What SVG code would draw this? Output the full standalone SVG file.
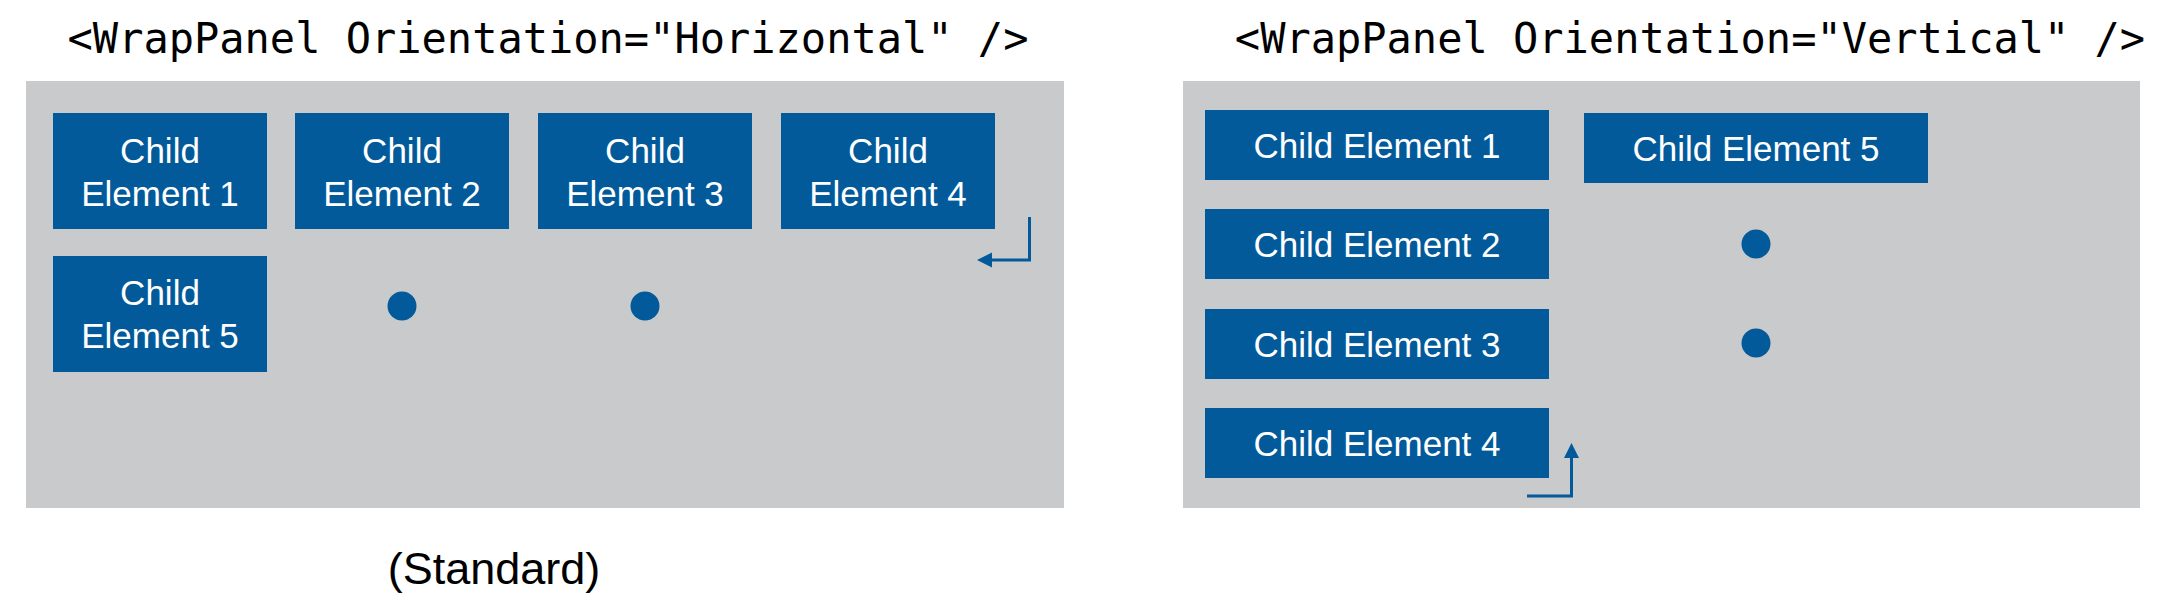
<svg xmlns="http://www.w3.org/2000/svg" width="2180" height="613" viewBox="0 0 2180 613">
<style>
.panel{fill:#C9CACC}
.box{fill:#025A9A}
.bt{font-family:"Liberation Sans",Arial,sans-serif;font-size:35px;fill:#FFFFFF;text-anchor:middle}
.title{font-family:"DejaVu Sans Mono","Liberation Mono",monospace;font-size:42px;fill:#000000;text-anchor:middle}
.cap{font-family:"Liberation Sans",Arial,sans-serif;font-size:45px;fill:#000000;text-anchor:middle}
.dot{fill:#025A9A}
.conn{fill:none;stroke:#025A9A;stroke-width:3;stroke-linejoin:miter}
</style>
<defs>
<marker id="ah" markerUnits="userSpaceOnUse" markerWidth="16" markerHeight="16" refX="0" refY="7.5" orient="auto">
<path d="M0,0 L15,7.5 L0,15 z" fill="#025A9A"/>
</marker>
</defs>
<rect width="2180" height="613" fill="#FFFFFF"/>

<g id="title-horizontal"><text class="title" x="548" y="53">&lt;WrapPanel Orientation="Horizontal" /&gt;</text></g>
<g id="title-vertical"><text class="title" x="1690" y="53">&lt;WrapPanel Orientation="Vertical" /&gt;</text></g>

<g id="panel-horizontal"><rect class="panel" x="26" y="81" width="1038" height="427"/></g>
<g id="panel-vertical"><rect class="panel" x="1183" y="81" width="957" height="427"/></g>

<g id="h-child1"><rect class="box" x="53" y="113" width="214" height="116"/><text class="bt" x="160" y="163">Child</text><text class="bt" x="160" y="206">Element 1</text></g>
<g id="h-child2"><rect class="box" x="295" y="113" width="214" height="116"/><text class="bt" x="402" y="163">Child</text><text class="bt" x="402" y="206">Element 2</text></g>
<g id="h-child3"><rect class="box" x="538" y="113" width="214" height="116"/><text class="bt" x="645" y="163">Child</text><text class="bt" x="645" y="206">Element 3</text></g>
<g id="h-child4"><rect class="box" x="781" y="113" width="214" height="116"/><text class="bt" x="888" y="163">Child</text><text class="bt" x="888" y="206">Element 4</text></g>
<g id="h-child5"><rect class="box" x="53" y="256" width="214" height="116"/><text class="bt" x="160" y="305">Child</text><text class="bt" x="160" y="348">Element 5</text></g>
<g id="h-dot1"><circle class="dot" cx="402" cy="306" r="14.5"/></g>
<g id="h-dot2"><circle class="dot" cx="645" cy="306" r="14.5"/></g>

<g id="v-child1"><rect class="box" x="1205" y="110" width="344" height="70"/><text class="bt" x="1377" y="158">Child Element 1</text></g>
<g id="v-child2"><rect class="box" x="1205" y="209" width="344" height="70"/><text class="bt" x="1377" y="257">Child Element 2</text></g>
<g id="v-child3"><rect class="box" x="1205" y="309" width="344" height="70"/><text class="bt" x="1377" y="357">Child Element 3</text></g>
<g id="v-child4"><rect class="box" x="1205" y="408" width="344" height="70"/><text class="bt" x="1377" y="456">Child Element 4</text></g>
<g id="v-child5"><rect class="box" x="1584" y="113" width="344" height="70"/><text class="bt" x="1756" y="161">Child Element 5</text></g>
<g id="v-dot1"><circle class="dot" cx="1756" cy="244" r="14.5"/></g>
<g id="v-dot2"><circle class="dot" cx="1756" cy="343" r="14.5"/></g>

<g id="caption"><text class="cap" x="494" y="584">(Standard)</text></g>

<g id="connectors">
<path class="conn" d="M1029.5,217 V260 H992" marker-end="url(#ah)"/>
<path class="conn" d="M1527,496 H1571.5 V458" marker-end="url(#ah)"/>
</g>
</svg>
